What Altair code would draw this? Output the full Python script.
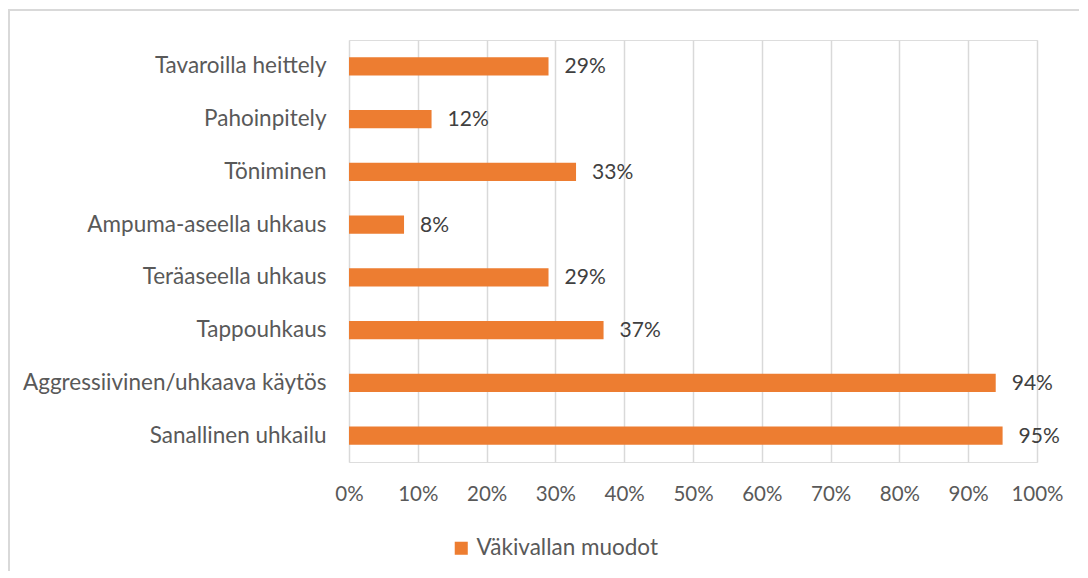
import altair as alt
import pandas as pd

categories = [
    "Tavaroilla heittely",
    "Pahoinpitely",
    "Töniminen",
    "Ampuma-aseella uhkaus",
    "Teräaseella uhkaus",
    "Tappouhkaus",
    "Aggressiivinen/uhkaava käytös",
    "Sanallinen uhkailu",
]
values = [0.29, 0.12, 0.33, 0.08, 0.29, 0.37, 0.94, 0.95]
series_name = "Väkivallan muodot"
x_ticks = [0, 0.1, 0.2, 0.3, 0.4, 0.5, 0.6, 0.7, 0.8, 0.9, 1.0]

df = pd.DataFrame({"cat": categories, "val": values, "series": [series_name] * len(categories)})

FONT = "Lato"
ORANGE = "#ED7D31"
GRID = "#d9d9d9"

base = alt.Chart(df)

y_enc = alt.Y(
    "cat:N",
    sort=categories,
    title=None,
    scale=alt.Scale(paddingInner=0.65, paddingOuter=0.325),
    axis=alt.Axis(
        domain=False, ticks=False, labelPadding=23, labelFontSize=22.5,
        labelColor="#595959", labelFont=FONT, labelLimit=400,
    ),
)

bars = base.mark_bar().encode(
    x=alt.X(
        "val:Q",
        title=None,
        scale=alt.Scale(domain=[0, 1], nice=False),
        axis=alt.Axis(
            values=x_ticks, format=".0%", domain=False, ticks=False,
            grid=True, gridColor=GRID, gridWidth=1.5, labelOverlap=False,
            labelFlush=False,
            labelPadding=22, labelFontSize=20.5, labelColor="#595959", labelFont=FONT,
        ),
    ),
    y=y_enc,
    color=alt.Color(
        "series:N",
        title=None,
        scale=alt.Scale(range=[ORANGE]),
        legend=alt.Legend(
            orient="none", legendX=101, legendY=497, direction="horizontal",
            symbolType="square", symbolSize=170, symbolStrokeWidth=0,
            labelFontSize=22.5, labelColor="#595959", labelFont=FONT, labelOffset=4,
            labelLimit=400,
        ),
    ),
)

labels = base.mark_text(
    align="left", baseline="middle", dx=16, dy=1, fontSize=21, color="#404040", font=FONT
).encode(
    x="val:Q",
    y=alt.Y("cat:N", sort=categories),
    text=alt.Text("val:Q", format=".0%"),
)

frame_data = alt.Data(values=[{}])
top_line = alt.Chart(frame_data).mark_rule(color=GRID, strokeWidth=2).encode(
    x=alt.value(-340), x2=alt.value(730), y=alt.value(-30)
)
left_line = alt.Chart(frame_data).mark_rule(color=GRID, strokeWidth=2).encode(
    x=alt.value(-340), y=alt.value(-31), y2=alt.value(531)
)

chart = alt.layer(bars, labels, top_line, left_line).properties(
    width=688, height=422, padding=0
).configure_view(stroke=None).configure(background="white")

chart.save("out.html", embed_options={"renderer": "svg", "actions": False})
